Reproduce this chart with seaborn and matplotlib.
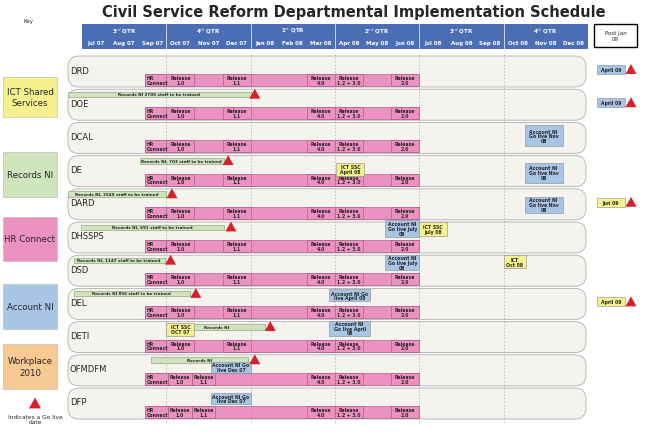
import matplotlib
matplotlib.use('Agg')
import seaborn
import matplotlib.pyplot as plt
from matplotlib.patches import FancyBboxPatch, Rectangle, Polygon

seaborn.set_theme(style="white")

# ---- data ----
months = ["Jul 07", "Aug 07", "Sep 07", "Oct 07", "Nov 07", "Dec 07", "Jan 08", "Feb 08", "Mar 08",
          "Apr 08", "May 08", "Jun 08", "Jul 08", "Aug 08", "Sep 08", "Oct 08", "Nov 08", "Dec 08"]
quarters = ["3$^{rd}$ QTR", "4$^{th}$ QTR", "1$^{st}$ QTR", "2$^{nd}$ QTR", "3$^{rd}$ QTR", "4$^{th}$ QTR"]
depts = ["DRD", "DOE", "DCAL", "DE", "DARD", "DHSSPS", "DSD", "DEL", "DETI", "OFMDFM", "DFP"]

# HR connect release cells (start month, end month, label)
releases_std = [(2.25, 3, "HR\nConnect"), (3, 4, "Release\n1.0"), (5, 6, "Release\n1.1"),
                (8, 9, "Release\n4.0"), (9, 10, "Release\n1.2 + 3.0"), (11, 12, "Release\n2.0")]
releases_late = [(2.25, 3.05, "HR\nConnect"), (3.05, 3.9, "Release\n1.0"), (3.9, 4.75, "Release\n1.1"),
                 (8, 9, "Release\n4.0"), (9, 10, "Release\n1.2 + 3.0"), (11, 12, "Release\n2.0")]
pink_span = (2.25, 12)

# Records NI training bars: dept, start, end, label, go-live triangle month
records = [("DOE", -0.5, 6.0, "Records NI 2706 staff to be trained", 6.15),
           ("DE", 2.05, 5.05, "Records NI, 703 staff to be trained", 5.2),
           ("DARD", -0.5, 3.0, "Records NI, 2540 staff to be trained", 3.2),
           ("DHSSPS", -0.05, 5.05, "Records NI, 691 staff to be trained", 5.3),
           ("DSD", -0.3, 2.95, "Records NI, 1147 staff to be trained", 3.15),
           ("DEL", -0.3, 3.85, "Records NI 856 staff to be trained", 4.05),
           ("DETI", 3.05, 6.5, "Records NI", 6.7),
           ("OFMDFM", 2.45, 5.9, "Records NI", 6.15)]

# milestone boxes: dept, start, end, y offset, height, label, kind
milestones = [("DCAL", 15.75, 17.1, 3, 21, "Account NI\nGo live Nov\n08", "acc"),
              ("DE", 9.05, 10.05, 7, 13, "ICT SSC\nApril 08", "ict"),
              ("DE", 15.75, 17.1, 7, 20, "Account NI\nGo live Nov\n08", "acc"),
              ("DARD", 15.75, 17.1, 8, 16, "Account NI\nGo live Nov\n08", "acc"),
              ("DHSSPS", 10.8, 12.0, -2, 17, "Account NI\nGo live July\n08", "acc"),
              ("DHSSPS", 12.0, 13.0, 0, 14, "ICT SSC\nJuly 08", "ict"),
              ("DSD", 10.8, 12.0, 0, 15, "Account NI\nGo live July\n08", "acc"),
              ("DSD", 15.0, 15.8, 0, 13, "ICT\nOct 08", "ict"),
              ("DEL", 8.8, 10.25, 1, 12, "Account NI Go\nlive April 08", "acc"),
              ("DETI", 8.8, 10.25, -1, 15, "Account NI\nGo live April\n08", "acc"),
              ("DETI", 3.0, 4.0, 1, 13, "ICT SSC\nOCT 07", "ict"),
              ("OFMDFM", 4.6, 6.0, 7, 11, "Account NI Go\nlive Dec 07", "acc"),
              ("DFP", 4.6, 6.0, 5, 11, "Account NI Go\nlive Dec 07", "acc")]

post_jan = [("DRD", "April 09", "acc"), ("DOE", "April 09", "acc"),
            ("DARD", "Jun 09", "ict"), ("DEL", "April 09", "ict")]

key_items = [("ICT Shared\nServices", "ict", 78, 118), ("Records NI", "rec", 153, 198),
             ("HR Connect", "hr", 218, 262), ("Account NI", "acc", 285, 330),
             ("Workplace\n2010", "wp", 345, 390)]

colors = {"ict": "#f6f08e", "rec": "#cfe3bd", "hr": "#ec92c0", "acc": "#a9c5e6",
          "wp": "#f7c993", "head": "#4a6db3", "row": "#f4f3ed", "tri": "#d9202a"}

# ---- layout helpers (pixel space) ----
X0, MW = 82.0, 28.1
def mx(m):
    return X0 + MW * m

row_tops = [57 + 33.2 * i for i in range(len(depts))]
ROW_H = 31
top = dict(zip(depts, row_tops))

fig = plt.figure(figsize=(6.62, 4.39), dpi=100)
ax = fig.add_axes([0, 0, 1, 1])
ax.set_xlim(0, 662)
ax.set_ylim(439, 0)
ax.axis("off")

fs = 3.3
ax.text(354, 12, "Civil Service Reform Departmental Implementation Schedule",
        ha="center", va="center", fontsize=10.5, fontweight="bold")
ax.text(28, 21, "Key", ha="center", va="center", fontsize=4)

# header
ax.add_patch(Rectangle((mx(0), 25), MW * 18, 25, fc=colors["head"], ec="none"))
for i, q in enumerate(quarters):
    ax.text(mx(3 * i + 1.5), 31, q, ha="center", va="center", fontsize=4, color="white", fontweight="bold")
    if i:
        ax.plot([mx(3 * i)] * 2, [25, 50], color="white", lw=0.5)
for i, m in enumerate(months):
    ax.text(mx(i + 0.5), 43.5, m, ha="center", va="center", fontsize=4, color="white", fontweight="bold")
ax.add_patch(Rectangle((594, 25), 43, 23, fc="white", ec="black", lw=1))
ax.text(615.5, 36.5, "Post Jan\n09", ha="center", va="center", fontsize=4, linespacing=1.1)

def box(x0, x1, y, h, kind, label, size=fs, ec="#888888"):
    ax.add_patch(Rectangle((x0, y), x1 - x0, h, fc=colors[kind], ec=ec, lw=0.4, zorder=3))
    ax.text((x0 + x1) / 2, y + h / 2, label, ha="center", va="center", fontsize=size,
            fontweight="bold", linespacing=0.95, zorder=4)

def tri(x, y, s=5.5):
    ax.add_patch(Polygon([(x - s, y + s * 0.9), (x + s, y + s * 0.9), (x, y - s * 0.9)],
                         closed=True, fc=colors["tri"], ec="none", zorder=5))

# rows
for d in depts:
    t = top[d]
    ax.add_patch(FancyBboxPatch((68, t), 518, ROW_H, boxstyle="round,pad=0,rounding_size=11",
                                fc=colors["row"], ec="#b0b0b0", lw=0.6, zorder=1))
    ax.text(70, t + 14, d, ha="left", va="center", fontsize=6, zorder=4)
    py = t + 18
    ax.add_patch(Rectangle((mx(pink_span[0]), py), mx(pink_span[1]) - mx(pink_span[0]), 12,
                           fc=colors["hr"], ec="#a05080", lw=0.4, zorder=2))
    rel = releases_late if d in ("OFMDFM", "DFP") else releases_std
    for s, e, lab in rel:
        ax.add_patch(Rectangle((mx(s), py), mx(e) - mx(s), 12, fc=colors["hr"], ec="#a05080", lw=0.4, zorder=2))
        if lab.startswith("HR"):
            ax.text(mx(s) + 1.5, py + 6, lab, ha="left", va="center", fontsize=fs, fontweight="bold", linespacing=0.95, zorder=3)
        else:
            ax.text(mx((s + e) / 2), py + 6, lab, ha="center", va="center", fontsize=fs, fontweight="bold", linespacing=0.95, zorder=3)

# quarter dividers
for q in [3, 6, 9, 12, 15]:
    ax.plot([mx(q)] * 2, [55, 425], color="#9a9a9a", lw=0.4, ls=(0, (3, 3)), zorder=2.5)

for d, s, e, lab, tm in records:
    y = top[d] + 5
    ax.add_patch(Rectangle((mx(s), y - 2.5), mx(e) - mx(s), 5.5, fc=colors["rec"], ec="#7a9a6a", lw=0.4, zorder=3))
    ax.text(mx((s + e) / 2), y, lab, ha="center", va="center", fontsize=3, fontweight="bold", zorder=4)
    tri(mx(tm), y - 0.5)

for d, s, e, off, h, lab, kind in milestones:
    box(mx(s), mx(e), top[d] + off, h, kind, lab)

for d, lab, kind in post_jan:
    y = top[d] + 9
    box(597, 625, y, 9, kind, lab, ec="#888888")
    tri(631, y + 4)

for lab, kind, y0, y1 in key_items:
    ax.add_patch(Rectangle((3, y0), 54, y1 - y0, fc=colors[kind], ec="#c0c0c0", lw=0.5))
    ax.text(30, (y0 + y1) / 2, lab, ha="center", va="center", fontsize=6.2, linespacing=1.3)
tri(35, 404, 6)
ax.text(35, 420, "Indicates a Go live\ndate", ha="center", va="center", fontsize=4.2)

plt.savefig("out.png", dpi=100)
